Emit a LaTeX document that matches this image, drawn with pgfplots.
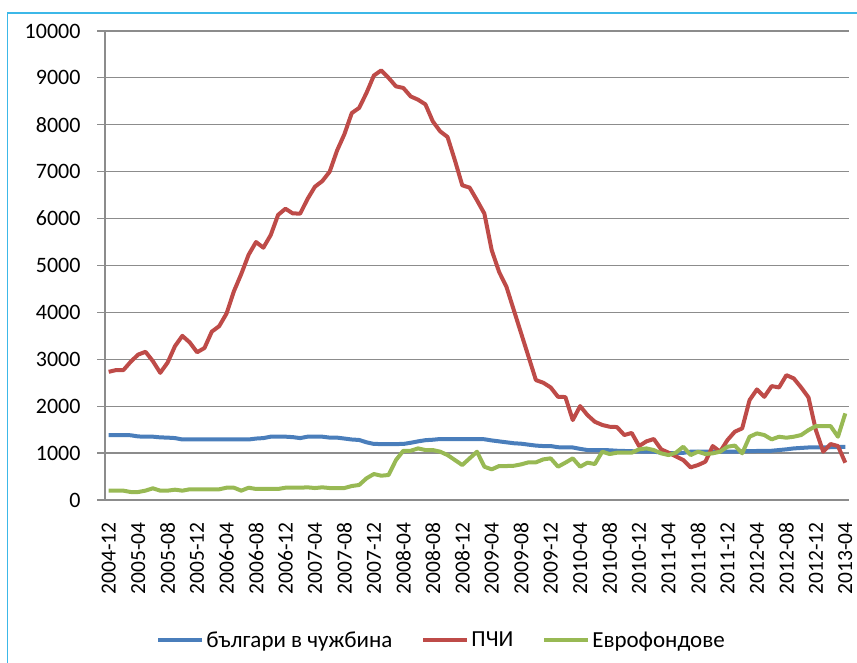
\documentclass[border=0pt]{standalone}
\usepackage{fontspec}
\setmainfont{Carlito}
\usepackage{pgfplots}
\usepackage{pgfplotstable}
\pgfplotsset{compat=1.18}
\definecolor{cb}{HTML}{4A7EBB}
\definecolor{cr}{HTML}{BE4B48}
\definecolor{cg}{HTML}{98B954}
\definecolor{framec}{HTML}{3CB8E8}
\definecolor{gridc}{HTML}{8C8C8C}
\pgfplotstableread{
i b p e
0 1385 2733 199
1 1385 2770 199
2 1385 2770 199
3 1380 2950 170
4 1355 3100 170
5 1350 3160 200
6 1350 2960 249
7 1335 2712 199
8 1330 2930 199
9 1320 3280 220
10 1290 3500 199
11 1290 3360 228
12 1290 3150 228
13 1290 3240 228
14 1290 3590 228
15 1290 3706 228
16 1290 3976 262
17 1290 4450 262
18 1290 4820 199
19 1290 5230 262
20 1310 5500 235
21 1320 5380 235
22 1350 5650 235
23 1350 6080 235
24 1350 6210 262
25 1340 6110 262
26 1320 6107 262
27 1350 6420 270
28 1350 6680 255
29 1350 6800 270
30 1330 7000 255
31 1330 7450 255
32 1310 7800 255
33 1290 8250 298
34 1280 8360 320
35 1230 8680 462
36 1195 9050 554
37 1193 9160 518
38 1193 9000 533
39 1193 8820 852
40 1195 8785 1050
41 1220 8605 1050
42 1250 8535 1100
43 1275 8435 1065
44 1285 8073 1065
45 1300 7860 1030
46 1300 7740 958
47 1300 7242 852
48 1300 6710 745
49 1300 6660 888
50 1300 6390 1030
51 1295 6107 710
52 1270 5325 653
53 1250 4863 724
54 1230 4544 724
55 1210 4047 730
56 1200 3550 760
57 1180 3053 803
58 1160 2556 803
59 1150 2500 866
60 1150 2400 888
61 1125 2200 710
62 1120 2195 796
63 1120 1704 888
64 1090 2002 710
65 1065 1810 796
66 1065 1668 767
67 1065 1600 1030
68 1060 1562 980
69 1050 1555 1008
70 1045 1385 1008
71 1040 1430 1008
72 1035 1150 1080
73 1030 1250 1100
74 1030 1300 1065
75 1010 1080 995
76 1000 1010 958
77 1000 930 1008
78 1005 852 1136
79 1030 696 958
80 1030 745 1030
81 1030 816 980
82 1030 1150 995
83 1030 1030 1030
84 1030 1278 1136
85 1030 1456 1160
86 1040 1527 995
87 1040 2130 1349
88 1045 2357 1420
89 1050 2200 1385
90 1050 2428 1292
91 1065 2400 1349
92 1080 2662 1328
93 1100 2592 1349
94 1110 2400 1385
95 1120 2187 1491
96 1120 1491 1576
97 1120 1030 1576
98 1125 1193 1576
99 1130 1150 1349
100 1130 795 1847
}\data
\begin{document}
\begin{tikzpicture}[x=1pt,y=1pt]
\path[use as bounding box] (0,0) rectangle (857,663);
\draw[framec, line width=1.5pt] (7.5,-5) -- (7.5,650) -- (870,650);
\begin{axis}[
  at={(105pt,163pt)}, anchor=south west,
  scale only axis, width=744pt, height=469pt,
  xmin=-0.5, xmax=100.5, ymin=0, ymax=10000,
  axis x line*=bottom, axis y line*=left,
  axis line style={gridc, line width=1.2pt, -},
  ymajorgrids, grid style={gridc, line width=1.2pt},
  ytick={0,1000,...,10000},
  scaled y ticks=false,
  /pgf/number format/assume math mode=true,
  y tick label style={/pgf/number format/1000 sep={}, font=\fontsize{22}{26}\selectfont, xshift=-13pt},
  tick align=outside,
  major tick length=8pt,
  y tick style={gridc, line width=1.2pt},
  xtick={0,4,...,100},
  xticklabels={2004-12,2005-04,2005-08,2005-12,2006-04,2006-08,2006-12,2007-04,2007-08,2007-12,2008-04,2008-08,2008-12,2009-04,2009-08,2009-12,2010-04,2010-08,2010-12,2011-04,2011-08,2011-12,2012-04,2012-08,2012-12,2013-04},
  x tick label style={yshift=-11pt, rotate=90, anchor=east, font=\fontsize{21.5}{26}\selectfont},
  xtick style={draw=none},
  minor xtick={-0.5,0.5,...,100.5},
  minor tick length=7pt,
  minor x tick style={gridc, line width=1pt},
  legend style={at={(0.4523,-0.2985)}, anchor=center, draw=none, fill=none,
    font=\fontsize{23}{27}\selectfont, legend columns=3,
    /tikz/every even column/.append style={column sep=27pt}},
  legend cell align=left,
  legend image code/.code={\draw[#1] (0pt,0pt) -- (44pt,0pt);},
  every axis plot/.append style={line width=4pt, line join=round, no markers},
]
\addplot[cb] table[x=i, y=b] {\data};
\addlegendentry{българи в чужбина}
\addplot[cr] table[x=i, y=p] {\data};
\addlegendentry{ПЧИ}
\addplot[cg] table[x=i, y=e] {\data};
\addlegendentry{Еврофондове}
\end{axis}
\end{tikzpicture}
\end{document}
